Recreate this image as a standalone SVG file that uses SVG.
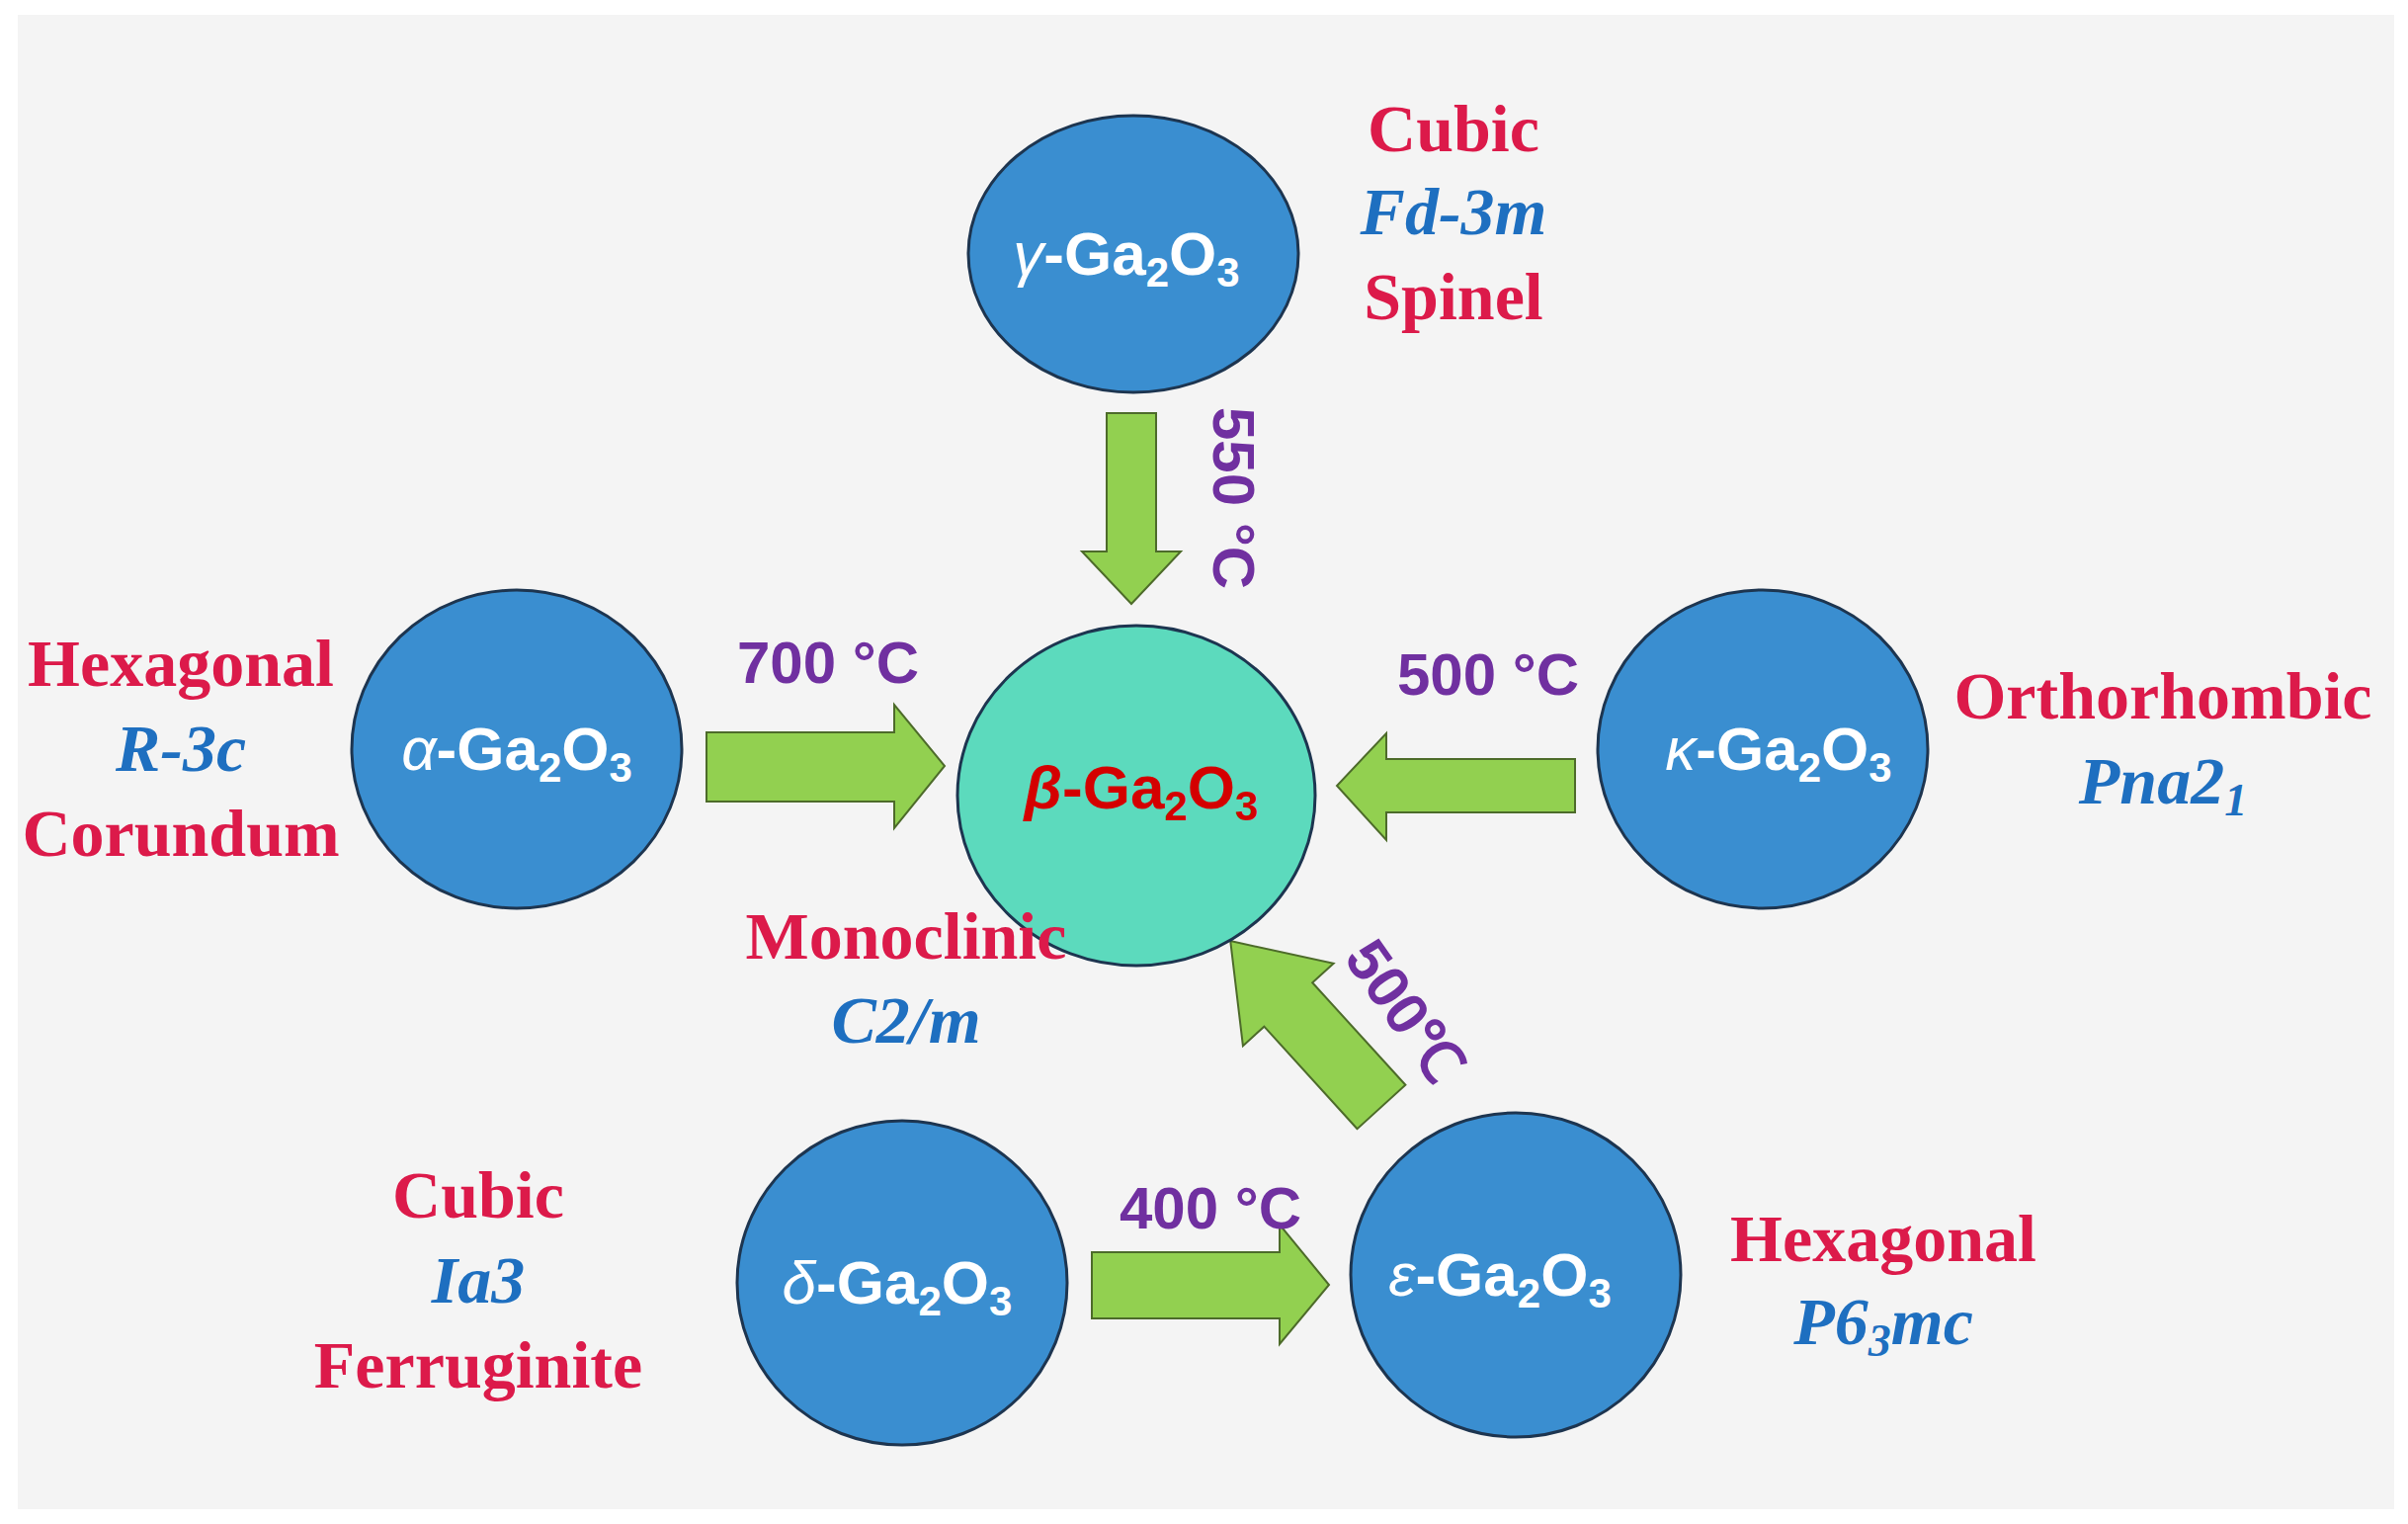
<svg xmlns="http://www.w3.org/2000/svg" width="2437" height="1542" viewBox="0 0 2437 1542">
<style>
.node{fill:#3A8ED0;stroke:#1d3550;stroke-width:3}
.beta{fill:#5CDABD;stroke:#1d3550;stroke-width:3}
.nl{font-family:"Liberation Sans",Arial,sans-serif;font-weight:bold;font-size:62px;fill:#fff;text-anchor:middle}
.arr{fill:#92D050;stroke:#4d6b2a;stroke-width:2}
.t{font-family:"Liberation Sans",Arial,sans-serif;font-weight:bold;font-size:60px;fill:#7030A0;text-anchor:middle}
.r{font-family:"Liberation Serif","Times New Roman",serif;font-weight:bold;font-size:68px;fill:#DC1A4A;text-anchor:middle}
.b{font-family:"Liberation Serif","Times New Roman",serif;font-weight:bold;font-style:italic;font-size:68px;fill:#1E6FC0;text-anchor:middle}
</style>
<rect width="2437" height="1542" fill="#ffffff"/>
<rect x="18" y="15" width="2405" height="1512" fill="#f4f4f4"/>
<g id="connectors">
<polygon class="arr" points="1120,418 1170,418 1170,558 1195,558 1145,611 1095,558 1120,558"/>
<polygon class="arr" points="715,741 905,741 905,713 956,775 905,838 905,811 715,811"/>
<polygon class="arr" points="1594,768 1403,768 1403,742 1353,795 1403,850 1403,822 1594,822"/>
<polygon class="arr" points="1105,1267 1295,1267 1295,1239 1345,1300 1295,1360 1295,1334 1105,1334"/>
<polygon class="arr" transform="translate(1398,1120) rotate(227.7)" points="0,-33 140,-33 140,-62 227,0 140,62 140,33 0,33"/>
<text class="t" x="838" y="691">700 °C</text>
<text class="t" x="1506" y="703">500 °C</text>
<text class="t" x="1225" y="1243">400 °C</text>
<text class="t" transform="translate(1228,504) rotate(90)">550 °C</text>
<text class="t" transform="translate(1405,1035) rotate(55)">500℃</text>
</g>
<g id="gamma"><ellipse class="node" cx="1147" cy="257" rx="167" ry="140"/>
<text class="nl" x="1140" y="278"><tspan font-style="italic" font-weight="normal">γ</tspan>-Ga<tspan font-size="42" dy="12">2</tspan><tspan dy="-12">O</tspan><tspan font-size="42" dy="12">3</tspan></text>
<text class="r" x="1471" y="153">Cubic</text><text class="b" x="1471" y="237">Fd-3m</text><text class="r" x="1471" y="323">Spinel</text></g>
<g id="alpha"><ellipse class="node" cx="523" cy="758" rx="167" ry="161"/>
<text class="nl" x="523" y="779"><tspan font-style="italic" font-weight="normal">α</tspan>-Ga<tspan font-size="42" dy="12">2</tspan><tspan dy="-12">O</tspan><tspan font-size="42" dy="12">3</tspan></text>
<text class="r" x="183" y="694">Hexagonal</text><text class="b" x="183" y="780">R-3c</text><text class="r" x="183" y="866">Corundum</text></g>
<g id="beta"><ellipse class="beta" cx="1150" cy="805" rx="181" ry="172"/>
<text class="nl" x="1155" y="818" style="fill:#D40000"><tspan font-style="italic">β</tspan>-Ga<tspan font-size="42" dy="12">2</tspan><tspan dy="-12">O</tspan><tspan font-size="42" dy="12">3</tspan></text>
<text class="r" x="917" y="970">Monoclinic</text><text class="b" x="917" y="1055">C2/m</text></g>
<g id="kappa"><ellipse class="node" cx="1784" cy="758" rx="167" ry="161"/>
<text class="nl" x="1800" y="779"><tspan font-style="italic" font-weight="normal">κ</tspan>-Ga<tspan font-size="42" dy="12">2</tspan><tspan dy="-12">O</tspan><tspan font-size="42" dy="12">3</tspan></text>
<text class="r" x="2189" y="727">Orthorhombic</text><text class="b" x="2189" y="813">Pna2<tspan font-size="46" dy="12">1</tspan></text></g>
<g id="delta"><ellipse class="node" cx="913" cy="1298" rx="167" ry="164"/>
<text class="nl" x="908" y="1319"><tspan font-style="italic" font-weight="normal">δ</tspan>-Ga<tspan font-size="42" dy="12">2</tspan><tspan dy="-12">O</tspan><tspan font-size="42" dy="12">3</tspan></text>
<text class="r" x="484" y="1232">Cubic</text><text class="b" x="484" y="1318">Ia3</text><text class="r" x="484" y="1404">Ferruginite</text></g>
<g id="epsilon"><ellipse class="node" cx="1534" cy="1290" rx="167" ry="164"/>
<text class="nl" x="1518" y="1311"><tspan font-style="italic" font-weight="normal">ε</tspan>-Ga<tspan font-size="42" dy="12">2</tspan><tspan dy="-12">O</tspan><tspan font-size="42" dy="12">3</tspan></text>
<text class="r" x="1906" y="1276">Hexagonal</text><text class="b" x="1906" y="1360">P6<tspan font-size="46" dy="12">3</tspan><tspan dy="-12">mc</tspan></text></g>
</svg>
